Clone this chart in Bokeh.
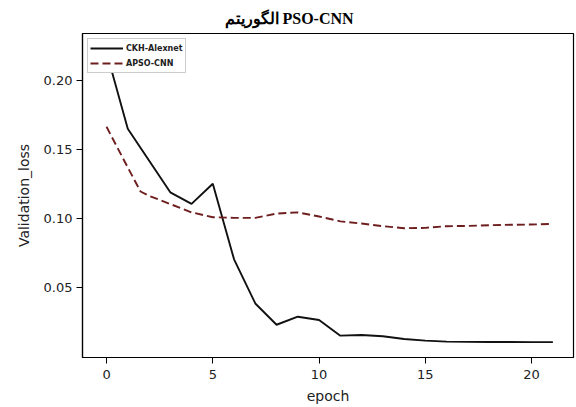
from bokeh.plotting import figure
from bokeh.models import Range1d, Legend, LegendItem, FixedTicker, PrintfTickFormatter
from bokeh.embed import file_html
from bokeh.resources import INLINE

# ---- data ----
epochs = list(range(22))
ckh_alexnet = [0.2204, 0.165, 0.142, 0.119, 0.1106, 0.1252, 0.0705, 0.0386, 0.0232, 0.0290,
               0.0266, 0.0153, 0.0158, 0.0149, 0.0129, 0.0117, 0.0110, 0.0108, 0.0107, 0.0107,
               0.0106, 0.0106]

apso_epochs = [0, 1, 1.6, 2, 3, 4, 5, 6, 7, 8, 9, 10, 11, 12, 13, 14, 15, 16, 17, 18, 19, 20, 21]
apso_cnn = [0.1664, 0.137, 0.1196, 0.1165, 0.1105, 0.1045, 0.101, 0.1005, 0.1005, 0.1036, 0.1045,
            0.1015, 0.098, 0.0964, 0.0945, 0.0930, 0.0933, 0.0945, 0.0947, 0.0952, 0.0955,
            0.0957, 0.0962]

x_ticks = [0, 5, 10, 15, 20]
y_ticks = [0.05, 0.10, 0.15, 0.20]

title_text = "الگوریتم PSO-CNN"
x_label = "epoch"
y_label = "Validation_loss"
series_names = ["CKH-Alexnet", "APSO-CNN"]

p = figure(width=576, height=406, output_backend="svg", toolbar_location=None,
           x_range=Range1d(-1.13, 21.97), y_range=Range1d(-0.0005, 0.2339),
           min_border_left=82, min_border_right=3, min_border_top=33, min_border_bottom=48,
           title=title_text)

p.title.align = "left"
p.title.offset = 142
p.title.text_font = "Liberation Serif"
p.title.text_font_size = "16px"
p.title.text_font_style = "bold"
p.title.text_color = "black"
p.title.standoff = 14

p.grid.visible = False
p.outline_line_color = "black"
p.outline_line_width = 1.2
p.background_fill_color = "white"
p.border_fill_color = "white"

r1 = p.line(epochs, ckh_alexnet, line_color="#111111", line_width=1.9)
r2 = p.line(apso_epochs, apso_cnn, line_color="#6e1e1e", line_width=1.9, line_dash="8 4")

for ax in (p.xaxis[0], p.yaxis[0]):
    ax.axis_line_color = "black"
    ax.axis_line_width = 1.2
    ax.major_tick_line_color = "black"
    ax.major_tick_out = 6
    ax.major_tick_in = 0
    ax.minor_tick_line_color = None
    ax.major_label_text_font = "DejaVu Sans"
    ax.major_label_text_font_size = "13px"
    ax.major_label_text_color = "#222222"
    ax.axis_label_text_font = "DejaVu Sans"
    ax.axis_label_text_font_size = "14px"
    ax.axis_label_text_font_style = "normal"
    ax.axis_label_text_color = "#222222"

p.xaxis[0].ticker = FixedTicker(ticks=x_ticks)
p.yaxis[0].ticker = FixedTicker(ticks=y_ticks)
p.yaxis[0].formatter = PrintfTickFormatter(format="%.2f")
p.xaxis[0].axis_label = x_label
p.yaxis[0].axis_label = y_label
p.xaxis[0].major_label_standoff = 6
p.xaxis[0].axis_label_standoff = 6
p.yaxis[0].major_label_standoff = 4
p.yaxis[0].axis_label_standoff = 9

legend = Legend(items=[LegendItem(label=series_names[0], renderers=[r1]),
                       LegendItem(label=series_names[1], renderers=[r2])],
                location="top_left", margin=5, padding=2, spacing=1,
                glyph_width=33, glyph_height=14, label_height=14, label_standoff=3,
                label_text_font="DejaVu Sans", label_text_font_size="8px",
                label_text_font_style="bold", label_text_color="#222222",
                border_line_color="#999999", border_line_width=1,
                background_fill_color="white", background_fill_alpha=1.0)
p.add_layout(legend, "center")

open("out.html", "w").write(file_html(p, INLINE))
